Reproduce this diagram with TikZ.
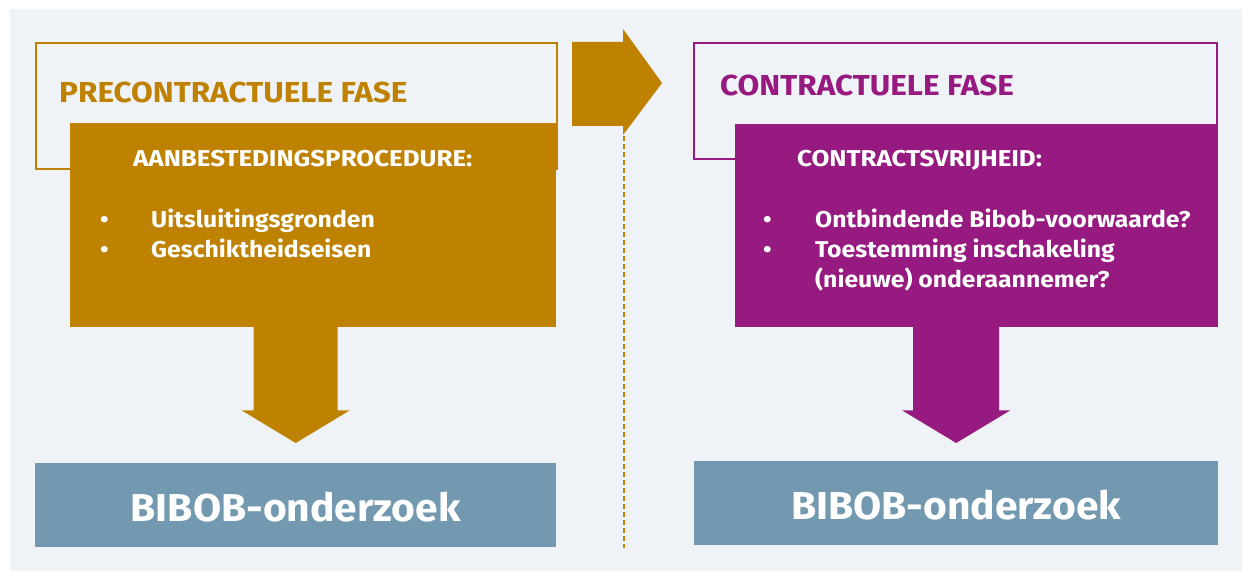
\documentclass[tikz,border=0pt]{standalone}
\usepackage{fontspec}
\setmainfont{Fira Sans}
\newfontfamily\titlefont{Fira Sans}[FakeStretch=1.09]
\newfontfamily\headfont{Fira Sans}[FakeStretch=1.13]
\newfontfamily\itemfont{Fira Sans}[FakeStretch=1.08]
\newfontfamily\bibfont{Fira Sans}[FakeStretch=1.05]
\usetikzlibrary{calc}
\definecolor{gold}{RGB}{191,130,0}
\definecolor{purp}{RGB}{150,26,128}
\definecolor{steel}{RGB}{115,153,177}
\definecolor{bggrey}{RGB}{239,242,246}
\begin{document}
\begin{tikzpicture}[x=1bp,y=-1bp,
  phasebox/.style={draw=#1, line width=2bp, inner sep=0, anchor=north west},
  fillbox/.style={fill=#1, inner sep=0, anchor=north west},
  phasetitle/.style={text=#1, anchor=base west, inner sep=0, font=\titlefont\bfseries\fontsize{29}{32}\selectfont},
  boxtitle/.style={text=white, anchor=base west, inner sep=0, font=\headfont\bfseries\fontsize{23}{28}\selectfont},
  itemlist/.style={text=white, anchor=base west, inner sep=0, align=left, font=\itemfont\bfseries\fontsize{23}{30.5}\selectfont},
  bibob/.style={fill=steel, text=white, inner sep=0, anchor=north west, text height=33bp, text depth=0bp, font=\bibfont\bfseries\fontsize{39}{44}\selectfont},
  bigarrow/.style={fill=#1},
  divider/.style={draw=gold, line width=1.5bp, dash pattern=on 5bp off 3bp}
]
\useasboundingbox (0,0) rectangle (1251,580);
\fill[white] (0,0) rectangle (1251,580);
\fill[bggrey] (10,9) rectangle (1242,571);

% left phase
\node[phasebox=gold, minimum width=521bp, minimum height=126bp] (pre) at (35,42) {};
\node[phasetitle=gold] (pretitle) at (59,103) {PRECONTRACTUELE FASE};
\node[fillbox=gold, minimum width=486bp, minimum height=204bp] (proc) at (70,123) {};
\node[boxtitle] (proctitle) at (133,167) {AANBESTEDINGSPROCEDURE:};
\node[itemlist] (proclist) at (100,258) {\makebox[51bp][l]{\textbullet}Uitsluitingsgronden\\\makebox[51bp][l]{\textbullet}Geschiktheidseisen};
\node[bibob, minimum width=521bp, minimum height=84bp] (bibl) at (35,463) {BIBOB-onderzoek};

% right phase
\node[phasebox=purp, minimum width=523bp, minimum height=116bp] (con) at (693,42) {};
\node[phasetitle=purp] (contitle) at (720,96) {CONTRACTUELE FASE};
\node[fillbox=purp, minimum width=483bp, minimum height=203bp] (vrij) at (735,124) {};
\node[boxtitle] (vrijtitle) at (797,167) {CONTRACTSVRIJHEID:};
\node[itemlist] (vrijlist) at (763,288) {\makebox[52bp][l]{\textbullet}Ontbindende Bibob-voorwaarde?\\\makebox[52bp][l]{\textbullet}Toestemming inschakeling\\\hspace*{52bp}(nieuwe) onderaannemer?};
\node[bibob, minimum width=524bp, minimum height=84bp] (bibr) at (694,461) {BIBOB-onderzoek};

% chevron between the phases
\coordinate (chevtop) at (572,42);
\fill[gold] (chevtop) -- ++(51,0) -- ++(0,-13) -- ++(39,54) -- ++(-39,52) -- ++(0,-9) -- ++(-51,0) -- cycle;
\coordinate (divtop) at (624,136);
\coordinate (divbot) at (624,548);
\draw[divider] (divtop) -- (divbot);

% down arrows
\coordinate (al) at (bibl.north |- proc.south);
\fill[bigarrow=gold] ($(al)+(-42,-1)$) -- ($(al)+(42,-1)$) -- ($(al)+(42,83)$) -- ($(al)+(54,83)$) -- ($(bibl.north)+(0,-20)$) -- ($(al)+(-54,83)$) -- ($(al)+(-42,83)$) -- cycle;
\coordinate (ar) at (bibr.north |- vrij.south);
\fill[bigarrow=purp] ($(ar)+(-43,-1)$) -- ($(ar)+(43,-1)$) -- ($(ar)+(43,83)$) -- ($(ar)+(54,83)$) -- ($(bibr.north)+(0,-18)$) -- ($(ar)+(-54,83)$) -- ($(ar)+(-43,83)$) -- cycle;
\end{tikzpicture}
\end{document}
